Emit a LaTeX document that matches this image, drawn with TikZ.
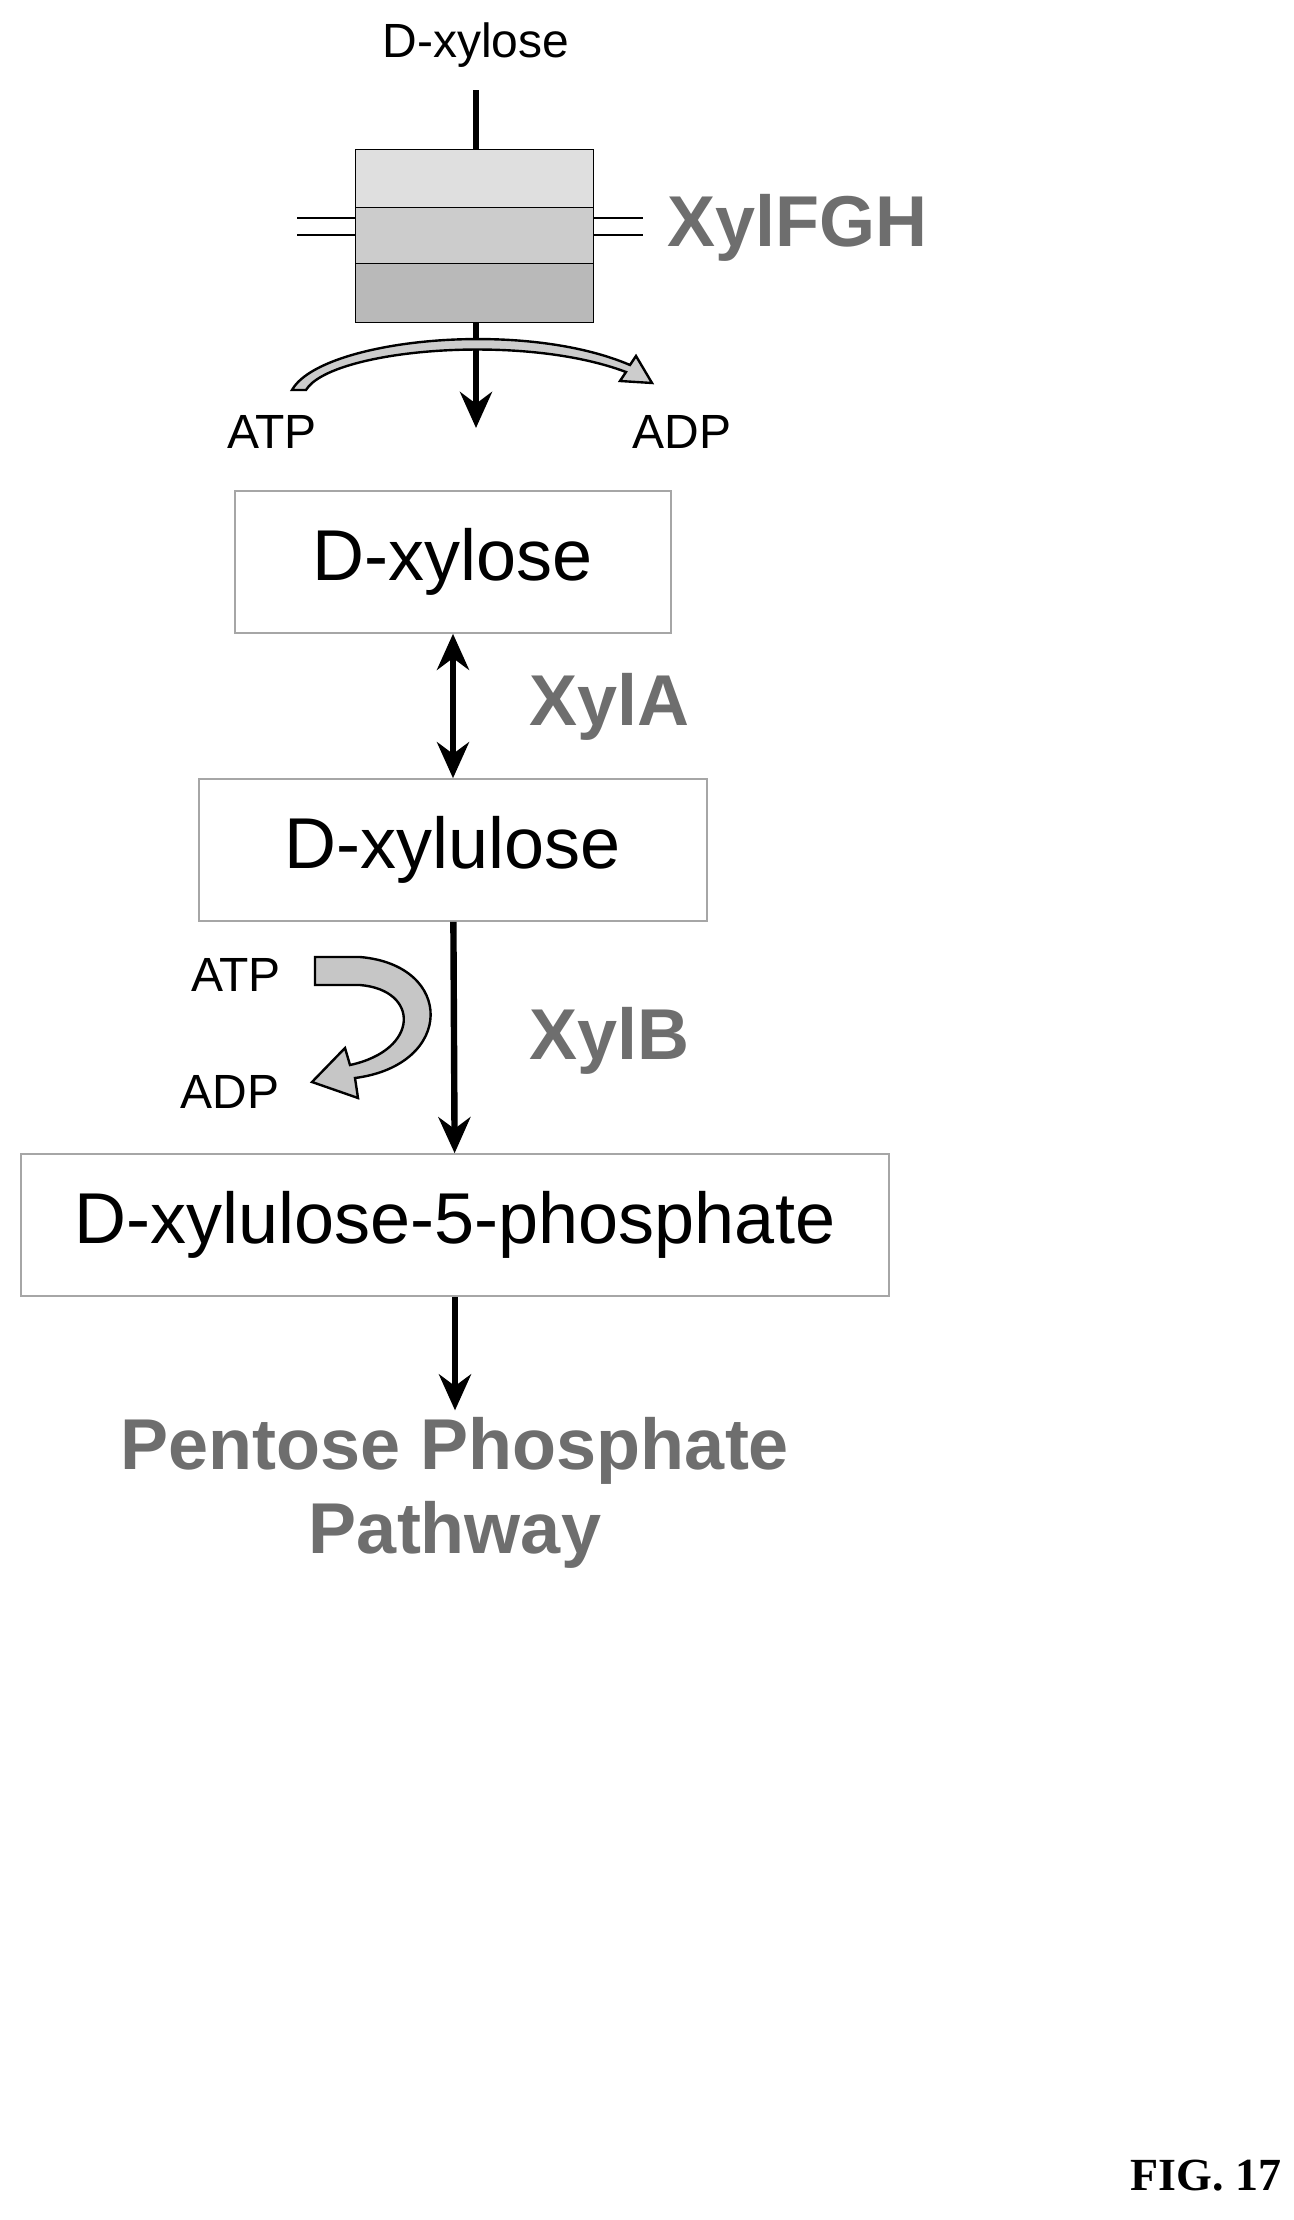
\documentclass[tikz,border=0pt]{standalone}
\usepackage{fontspec}
\setmainfont{Liberation Sans}
\usetikzlibrary{arrows.meta}
\definecolor{enzgray}{RGB}{110,110,110}
\tikzset{
  metab/.style={draw=gray!70,line width=0.8pt,minimum height=71pt,font=\fontsize{36}{40}\selectfont},
  small/.style={font=\fontsize{24}{28}\selectfont},
  enz/.style={text=enzgray,font=\fontsize{36}{40}\selectfont\bfseries,anchor=west},
  flow/.style={line width=3.2pt,-{Stealth[length=18pt,width=16pt]}}
}
\begin{document}
\begin{tikzpicture}[x=0.5pt,y=0.5pt,yscale=-1,xscale=1]
\useasboundingbox (0,0) rectangle (1294,2220);
% transporter
\draw[fill=gray!25] (355,149) rectangle (593,207);
\draw[fill=gray!40] (355,207) rectangle (593,263);
\draw[fill=gray!55] (355,263) rectangle (593,322);
\draw[line width=1.2pt] (297,218) -- (355,218) (297,235) -- (355,235);
\draw[line width=1.2pt] (593,218) -- (643,218) (593,235) -- (643,235);
\node[small] (xin) at (476,45) {D-xylose};
\coordinate (ttop) at (476,149);
\coordinate (tbot) at (476,322);
\coordinate (tend) at (476,428);
\draw[line width=3.2pt] (xin.south) ++(0,8pt) -- (ttop);
\draw[flow] (tbot) -- (tend);
\node[enz] (fgh) at (660,228) {XylFGH};
\node[small] (atp1) at (272,432) {ATP};
\node[small] (adp1) at (682,432) {ADP};
% ATP -> ADP over the transporter
\draw[fill=gray!40,line width=1.2pt] (292,390) .. controls (320,340) and (520,318) .. (630,365)
  -- (636,356) -- (652,383) -- (620,381) -- (626,372)
  .. controls (520,332) and (330,350) .. (306,390) -- cycle;
% metabolites
\node[metab,minimum width=218pt] (xyl) at (453,562) {D-xylose};
\node[metab,minimum width=254pt] (xylu) at (453,850) {D-xylulose};
\node[metab,minimum width=434pt] (x5p) at (455,1225) {D-xylulose-5-phosphate};
\node[enz] (xa) at (522,707) {XylA};
\node[enz] (xb) at (522,1041) {XylB};
\draw[line width=3.2pt,{Stealth[length=18pt,width=16pt]}-{Stealth[length=18pt,width=16pt]}] (xyl) -- (xylu);
\draw[flow] (xylu) -- (x5p);
\node[small] (atp2) at (236,975) {ATP};
\node[small] (adp2) at (230,1092) {ADP};
\draw[fill=gray!45,line width=1.2pt] (315,957) -- (360,957)
  .. controls (455,965) and (455,1065) .. (355,1078)
  -- (358,1098) -- (312,1082) -- (345,1048) -- (350,1065)
  .. controls (420,1050) and (420,990) .. (360,985) -- (315,985) -- cycle;
\node[font=\fontsize{36}{42}\selectfont\bfseries,text=enzgray,align=center] (ppp) at (455,1493) {Pentose Phosphate\\Pathway};
\draw[flow] (x5p) -- (ppp);
\node[font=\fontsize{23}{26}\selectfont\bfseries,text=black] (fig) at (1206,2176) {\fontspec{Liberation Serif}FIG. 17};
\end{tikzpicture}
\end{document}
